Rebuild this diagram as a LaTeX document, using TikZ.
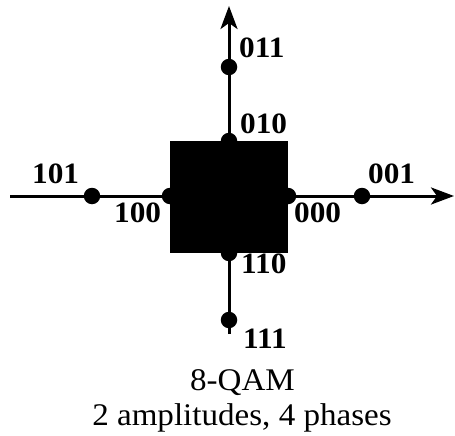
\documentclass[tikz,border=0pt]{standalone}
\usepackage{fontspec}
\setmainfont{Liberation Serif}
\usetikzlibrary{arrows.meta}
\begin{document}
\begin{tikzpicture}[x=1pt,y=-1pt,
  dot/.style={circle,fill=black,inner sep=0pt,minimum size=16.5pt},
  lbl/.style={anchor=base west,inner sep=0pt,xscale=1.06,font=\fontsize{29.5}{31}\selectfont\bfseries},
  captxt/.style={anchor=base,inner sep=0pt,xscale=1.05,font=\fontsize{31.5}{35}\selectfont},
  axis/.style={line width=3pt,-{Stealth[length=23pt,width=17pt,inset=6pt]}}]
\useasboundingbox (0,0) rectangle (455,436);
% square
\fill[black] (170,141) rectangle (288,253);
% axes
\coordinate (xl) at (10,196);
\coordinate (xr) at (454,196);
\coordinate (yb) at (229,334);
\coordinate (yt) at (229,6);
\draw[axis] (xl) -- (xr);
\draw[axis] (yb) -- (yt);
% dots
\node[dot] (d011) at (229,67) {};
\node[dot] (d010) at (229,141) {};
\node[dot] (d101) at (92,196) {};
\node[dot] (d100) at (170,196) {};
\node[dot] (d000) at (288,196) {};
\node[dot] (d001) at (362,196) {};
\node[dot] (d110) at (229,253) {};
\node[dot] (d111) at (229,320) {};
% labels
\node[lbl] (l011) at (239,58) {011};
\node[lbl] (l010) at (240,133) {010};
\node[lbl] (l101) at (32,183) {101};
\node[lbl] (l001) at (368,183) {001};
\node[lbl] (l100) at (114,222) {100};
\node[lbl] (l000) at (294,222) {000};
\node[lbl] (l110) at (241,273) {110};
\node[lbl] (l111) at (243,348) {111};
% caption
\node[captxt] (c1) at (242.5,390) {8-QAM};
\node[captxt] (c2) at (242,425) {2 amplitudes, 4 phases};
\end{tikzpicture}
\end{document}
